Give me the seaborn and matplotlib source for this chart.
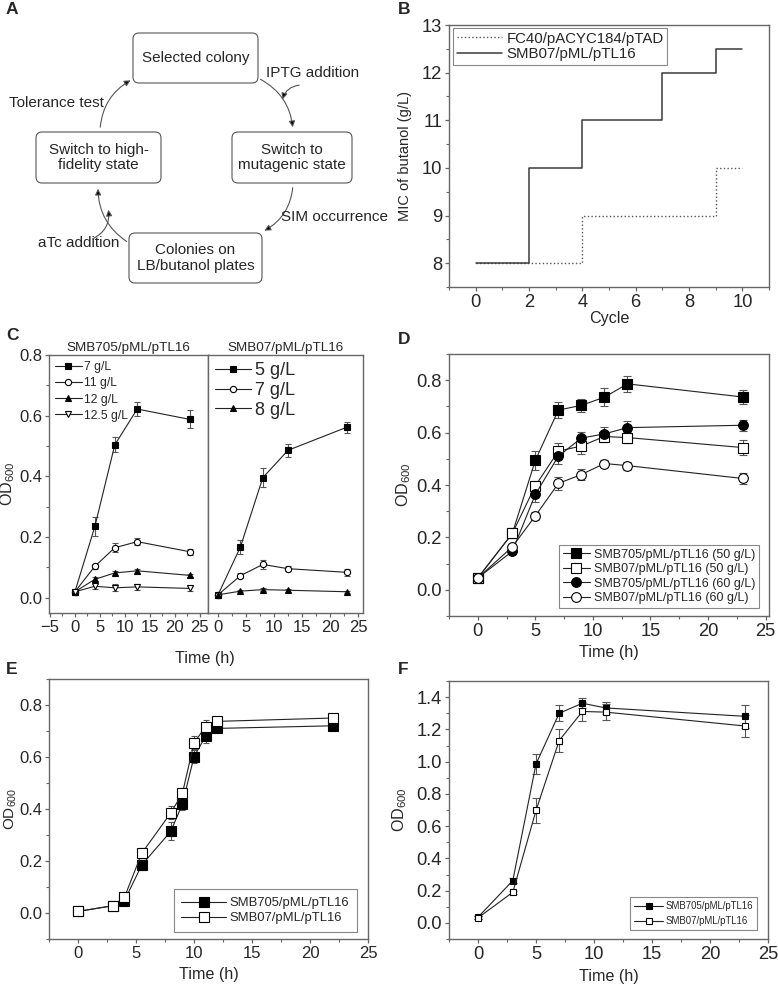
import numpy as np
import matplotlib
matplotlib.use('Agg')
import matplotlib.pyplot as plt
import seaborn as sns
from matplotlib.patches import FancyBboxPatch, FancyArrowPatch
from matplotlib.ticker import MultipleLocator, FormatStrFormatter

# ---- panel B: MIC of butanol per cycle
cycle_smb07 = [0, 2, 4, 7, 9, 10]
mic_smb07 = [8, 10, 11, 12, 12.5, 12.5]
cycle_fc40 = [0, 4, 9, 10]
mic_fc40 = [8, 9, 10, 10]

# ---- panel C: growth under butanol
time_c = [0, 4, 8, 12.5, 23]
c705_labels = ['7 g/L', '11 g/L', '12 g/L', '12.5 g/L']
c705_od = [[0.02, 0.235, 0.504, 0.622, 0.588],
           [0.02, 0.104, 0.165, 0.185, 0.152],
           [0.02, 0.061, 0.082, 0.089, 0.074],
           [0.02, 0.038, 0.033, 0.036, 0.031]]
c705_err = [[0.005, 0.03, 0.025, 0.022, 0.03],
            [0.005, 0.008, 0.015, 0.012, 0.01],
            [0.004, 0.006, 0.006, 0.006, 0.005],
            [0.004, 0.008, 0.012, 0.01, 0.008]]
c07_labels = ['5 g/L', '7 g/L', '8 g/L']
c07_od = [[0.01, 0.168, 0.396, 0.486, 0.562],
          [0.01, 0.073, 0.11, 0.096, 0.084],
          [0.01, 0.022, 0.027, 0.025, 0.02]]
c07_err = [[0.005, 0.022, 0.032, 0.022, 0.018],
           [0.004, 0.008, 0.015, 0.008, 0.012],
           [0.003, 0.004, 0.005, 0.005, 0.004]]

# ---- panel D
time_d = [0, 3, 5, 7, 9, 11, 13, 23]
d_labels = ['SMB705/pML/pTL16 (50 g/L)', 'SMB07/pML/pTL16 (50 g/L)',
            'SMB705/pML/pTL16 (60 g/L)', 'SMB07/pML/pTL16 (60 g/L)']
d_od = [[0.045, 0.215, 0.494, 0.686, 0.704, 0.735, 0.786, 0.736],
        [0.045, 0.215, 0.397, 0.529, 0.549, 0.585, 0.581, 0.543],
        [0.045, 0.147, 0.364, 0.51, 0.579, 0.595, 0.619, 0.628],
        [0.045, 0.164, 0.282, 0.406, 0.44, 0.482, 0.474, 0.425]]
d_err = [[0.01, 0.015, 0.035, 0.03, 0.025, 0.035, 0.03, 0.025],
         [0.01, 0.015, 0.02, 0.03, 0.03, 0.02, 0.02, 0.03],
         [0.01, 0.01, 0.03, 0.03, 0.025, 0.025, 0.025, 0.02],
         [0.01, 0.01, 0.015, 0.025, 0.02, 0.015, 0.015, 0.02]]

# ---- panel E
time_e = [0, 3, 4, 5.5, 8, 9, 10, 11, 12, 22]
e_labels = ['SMB705/pML/pTL16', 'SMB07/pML/pTL16']
e_od = [[0.006, 0.028, 0.047, 0.185, 0.314, 0.419, 0.601, 0.68, 0.71, 0.72],
        [0.006, 0.028, 0.06, 0.23, 0.385, 0.46, 0.654, 0.717, 0.737, 0.75]]
e_err = [[0.01, 0.008, 0.01, 0.02, 0.035, 0.022, 0.025, 0.025, 0.015, 0.01],
         [0.01, 0.008, 0.01, 0.02, 0.025, 0.02, 0.025, 0.025, 0.015, 0.01]]

# ---- panel F
time_f = [0, 3, 5, 7, 9, 11, 23]
f_labels = ['SMB705/pML/pTL16', 'SMB07/pML/pTL16']
f_od = [[0.035, 0.262, 0.985, 1.30, 1.362, 1.333, 1.281],
        [0.031, 0.19, 0.697, 1.131, 1.311, 1.307, 1.221]]
f_err = [[0.01, 0.015, 0.06, 0.05, 0.03, 0.035, 0.07],
         [0.01, 0.01, 0.075, 0.07, 0.06, 0.05, 0.07]]

sns.set_theme(style='ticks')
plt.rcParams['font.family'] = ['Liberation Sans', 'DejaVu Sans']
plt.rcParams['xtick.direction'] = 'out'
plt.rcParams['ytick.direction'] = 'out'

W, H = 778, 990
fig = plt.figure(figsize=(W / 100, H / 100), dpi=100)
SPINE = '#666666'
LINE = '#222222'
OD = 'OD$_{\\mathregular{600}}$'
TICK = 13.2
LAB = 11.6


def px_axes(l, t, r, b):
    return fig.add_axes([l / W, 1 - b / H, (r - l) / W, (b - t) / H])


def style(ax, fs=TICK):
    for s in ax.spines.values():
        s.set_color(SPINE)
        s.set_linewidth(1.0)
    ax.tick_params(which='both', top=False, right=False, color=SPINE,
                   labelsize=fs, pad=2)
    ax.tick_params(which='major', length=3, width=0.9)
    ax.tick_params(which='minor', length=2, width=0.8)


def series(ax, x, y, err, marker, filled, label, ms=6, cap=2.5):
    ax.errorbar(x, y, yerr=err, fmt='none', ecolor='#555555', elinewidth=0.8,
                capsize=cap, capthick=0.8, zorder=2)
    sns.lineplot(x=x, y=y, ax=ax, color=LINE, lw=0.8, marker=marker, ms=ms,
                 markerfacecolor='black' if filled else 'white',
                 markeredgecolor='black', markeredgewidth=0.8,
                 label=label, zorder=3, errorbar=None, legend=False)


def frame_legend(ax, x, y, loc, **kw):
    leg = ax.legend(loc=loc, bbox_to_anchor=(x, y), borderaxespad=0,
                    frameon=True, fancybox=False, edgecolor='#888888',
                    framealpha=1, handletextpad=0.3, **kw)
    leg.get_frame().set_linewidth(0.8)
    return leg


# ================= A: diagram
axA = px_axes(0, 0, 390, 295)
axA.set_xlim(0, 390)
axA.set_ylim(295, 0)
axA.axis('off')
boxes = [(133, 33, 258, 83, 'Selected colony'),
         (232, 132, 352, 183, 'Switch to\nmutagenic state'),
         (129, 233, 262, 283, 'Colonies on\nLB/butanol plates'),
         (36, 132, 161, 183, 'Switch to high-\nfidelity state')]
for l, t, r, b, txt in boxes:
    axA.add_patch(FancyBboxPatch((l + 6, t + 6), r - l - 12, b - t - 12,
                                 boxstyle='round,pad=6', fc='white',
                                 ec='#555555', lw=0.8))
    axA.text((l + r) / 2, (t + b) / 2, txt, ha='center', va='center',
             fontsize=11, linespacing=1.15)
arcs = [((258, 78), (293, 130)), ((293, 185), (262, 232)),
        ((129, 243), (98, 186)), ((100, 130), (133, 79))]
for a, b in arcs:
    axA.add_patch(FancyArrowPatch(a, b, connectionstyle='arc3,rad=-0.28',
                                  arrowstyle='-|>', mutation_scale=9,
                                  color='#555555', lw=0.8, fc='black'))
for a, b in [((302, 85), (282, 102)), ((90, 240), (108, 207))]:
    axA.add_patch(FancyArrowPatch(a, b, connectionstyle='arc3,rad=0.4',
                                  arrowstyle='-|>', mutation_scale=9,
                                  color='#555555', lw=0.8, fc='black'))
axA.text(313, 73, 'IPTG addition', ha='center', va='center', fontsize=11)
axA.text(56, 103, 'Tolerance test', ha='center', va='center', fontsize=11)
axA.text(335, 217, 'SIM occurrence', ha='center', va='center', fontsize=11)
axA.text(79, 243, 'aTc addition', ha='center', va='center', fontsize=11)

# ================= B
axB = px_axes(449, 25, 769, 287)
sns.lineplot(x=cycle_fc40, y=mic_fc40, ax=axB, color='#555555', lw=1.0,
             ls=':', drawstyle='steps-post', label='FC40/pACYC184/pTAD')
sns.lineplot(x=cycle_smb07, y=mic_smb07, ax=axB, color='#3a3a3a', lw=1.1,
             drawstyle='steps-post', label='SMB07/pML/pTL16')
axB.set_xlim(-1, 11)
axB.set_ylim(7.5, 13)
axB.xaxis.set_major_locator(MultipleLocator(2))
axB.xaxis.set_minor_locator(MultipleLocator(1))
axB.yaxis.set_major_locator(MultipleLocator(1))
axB.yaxis.set_minor_locator(MultipleLocator(0.5))
axB.set_xlabel('Cycle', fontsize=LAB, labelpad=0)
axB.set_ylabel('MIC of butanol (g/L)', fontsize=10.5)
axB.yaxis.set_label_coords(-0.116, 0.5)
style(axB)
frame_legend(axB, 0.0125, 0.989, 'upper left', fontsize=10.8,
             handlelength=3.0, borderpad=0.25, labelspacing=0.1)

# ================= C
axC1 = px_axes(49, 355, 208, 613)
axC2 = px_axes(208, 355, 363, 613)
mk705 = [('s', True), ('o', False), ('^', True), ('v', False)]
for i in range(4):
    m, f = mk705[i]
    series(axC1, time_c, c705_od[i], c705_err[i], m, f, c705_labels[i], ms=4.5, cap=2)
mk07 = [('s', True), ('o', False), ('^', True)]
for i in range(3):
    m, f = mk07[i]
    series(axC2, time_c, c07_od[i], c07_err[i], m, f, c07_labels[i], ms=4.5, cap=2)
for ax in (axC1, axC2):
    ax.set_ylim(-0.05, 0.8)
    ax.xaxis.set_major_locator(MultipleLocator(5))
    ax.xaxis.set_minor_locator(MultipleLocator(2.5))
    ax.yaxis.set_major_locator(MultipleLocator(0.2))
    ax.yaxis.set_minor_locator(MultipleLocator(0.1))
    style(ax, fs=12)
axC1.set_xlim(-5.2, 26.7)
axC2.set_xlim(-1.8, 25.9)
axC2.tick_params(which='both', left=False, labelleft=False)
axC1.yaxis.set_major_formatter(FormatStrFormatter('%.1f'))
axC1.set_ylabel(OD, fontsize=LAB)
axC1.yaxis.set_label_coords(-0.2, 0.5)
axC1.set_title('SMB705/pML/pTL16', fontsize=9.7, pad=3)
axC2.set_title('SMB07/pML/pTL16', fontsize=9.7, pad=3)
axC1.legend(loc='upper left', fontsize=8.7, frameon=False, handlelength=2.2,
            handletextpad=0.2, labelspacing=0.35, borderaxespad=0.1)
axC2.legend(loc='upper left', fontsize=13, frameon=False, handlelength=2.0,
            handletextpad=0.2, labelspacing=0.15, borderaxespad=0.0)
fig.text(205 / W, 1 - 658 / H, 'Time (h)', ha='center', va='center', fontsize=LAB)

# ================= D
axD = px_axes(449, 354, 769, 616)
mkD = [('s', True), ('s', False), ('o', True), ('o', False)]
for i in range(4):
    m, f = mkD[i]
    series(axD, time_d, d_od[i], d_err[i], m, f, d_labels[i], ms=7, cap=3)
axD.set_xlim(-2.5, 25.3)
axD.set_ylim(-0.1, 0.9)
axD.yaxis.set_label_coords(-0.1125, 0.5)

# ================= E
axE = px_axes(49, 679, 368, 939)
for i in range(2):
    series(axE, time_e, e_od[i], e_err[i], 's', i == 0, e_labels[i], ms=6.5)
axE.set_xlim(-2.5, 25)
axE.set_ylim(-0.1, 0.9)
axE.yaxis.set_label_coords(-0.094, 0.5)

# ================= F
axF = px_axes(449, 681, 768, 939)
for i in range(2):
    series(axF, time_f, f_od[i], f_err[i], 's', i == 0, f_labels[i], ms=5, cap=3)
axF.set_xlim(-2.5, 25)
axF.set_ylim(-0.1, 1.5)
axF.yaxis.set_label_coords(-0.125, 0.5)

for ax in (axD, axE, axF):
    ax.set_xlabel('Time (h)', fontsize=LAB, labelpad=4)
    ax.set_ylabel(OD, fontsize=LAB)
    ax.xaxis.set_major_locator(MultipleLocator(5))
    ax.xaxis.set_minor_locator(MultipleLocator(2.5))
    ax.yaxis.set_major_locator(MultipleLocator(0.2))
    ax.yaxis.set_minor_locator(MultipleLocator(0.1))
    ax.yaxis.set_major_formatter(FormatStrFormatter('%.1f'))
    style(ax)
axE.tick_params(labelsize=12)
axE.set_ylabel(OD, fontsize=11)

frame_legend(axD, 0.969, 0.031, 'lower right', fontsize=9,
             handlelength=2.2, labelspacing=0.2, borderpad=0.3)
frame_legend(axE, 0.966, 0.027, 'lower right', fontsize=9.4,
             handlelength=3.4, labelspacing=0.2, borderpad=0.6)
frame_legend(axF, 0.966, 0.035, 'lower right',
             prop={'family': ['Liberation Sans Narrow', 'Liberation Sans'],
                   'size': 6.9},
             handlelength=3.0, labelspacing=0.55, borderpad=0.4)

# panel letters
for letter, x, y in [('A', 6, 10), ('B', 398, 10), ('C', 6, 336),
                     ('D', 398, 340), ('E', 6, 669), ('F', 398, 669)]:
    fig.text(x / W, 1 - y / H, letter, fontsize=12.5, fontweight='bold',
             ha='left', va='center')

fig.savefig('out.png', dpi=100)
